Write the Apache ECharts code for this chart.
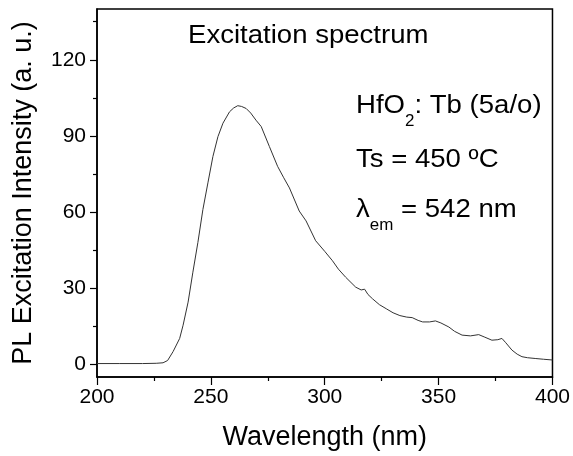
<!DOCTYPE html>
<html>
<head>
<meta charset="utf-8">
<script src="https://cdn.jsdelivr.net/npm/echarts@6/dist/echarts.min.js"></script>
<style>
html,body{margin:0;padding:0;background:#fff;}
#chart{width:573px;height:456px;}
</style>
</head>
<body>
<div id="chart"></div>
<script>
// Data
const wavelength = [200,210,220,226,229,231,233.4,236.3,237.8,240,242.1,244.3,246.5,248.7,250.9,253.1,255.3,258.2,260,261.8,263.5,265.5,267.5,269.8,272.1,275.7,279.3,282,284.5,288.8,291.8,296,300,303.4,306,309.2,313.6,316,317.5,319,321,324,327,330,333,336,338.4,341,343,346,348.6,351,354.5,357,360.3,364,367.6,370,373.4,376,377.8,379.5,382.2,384.5,386.6,389,392.4,396,400];
const intensity = [0.3,0.3,0.3,0.4,0.6,1.5,5.0,10.2,15.4,24.5,36.3,48,61,71.5,81.9,89.7,95,99.5,101,101.9,101.6,100.8,99,96.2,93.7,85.8,78,73.5,69.5,60.4,56.5,48.7,44.5,40.8,37.5,34.3,30.4,29.3,29.6,27.5,25.8,23.5,21.9,20.3,19.2,18.6,18.4,17.3,16.7,16.7,17.1,16.3,14.7,13,11.5,11.2,11.7,10.8,9.5,9.7,10.2,8.5,5.6,4,3,2.6,2.3,2,1.7];
const yTickValues = [0,30,60,90,120];
const yMinorValues = [15,45,75,105,135];
const xTitle = 'Wavelength (nm)';
const yTitle = 'PL Excitation Intensity (a. u.)';
const chartTitle = 'Excitation spectrum';
const noteLines = ['HfO{s|2}: Tb (5a/o)', 'Ts = 450 ºC', 'λ{s|em} = 542 nm'];

const FONT = '"Liberation Sans", Arial, Helvetica, sans-serif';
const chart = echarts.init(document.getElementById('chart'), null, {renderer:'canvas'});
const data = wavelength.map((w,i)=>[w,intensity[i]]);
const subRich = {s:{fontSize:16, lineHeight:16, padding:[32,0,0,0], fontFamily:FONT, fill:'#000'}};

chart.setOption({
  animation:false,
  backgroundColor:'#fff',
  grid:{left:97, top:9, width:457, height:371, show:true, borderColor:'#000', borderWidth:1.5, backgroundColor:'transparent'},
  xAxis:{
    type:'value', min:200, max:400, interval:50,
    axisLine:{show:true, onZero:false, lineStyle:{color:'#000', width:1.5}},
    axisTick:{show:true, inside:false, length:8, lineStyle:{color:'#000', width:1.2}},
    minorTick:{show:true, splitNumber:2, length:4, lineStyle:{color:'#000', width:1.2}},
    axisLabel:{color:'#000', fontFamily:FONT, fontSize:21, margin:10},
    splitLine:{show:false},
    name:xTitle, nameLocation:'middle', nameGap:47,
    nameTextStyle:{color:'#000', fontFamily:FONT, fontSize:27}
  },
  yAxis:[{
    type:'value', min:-5, max:140,
    axisLine:{show:true, onZero:false, lineStyle:{color:'#000', width:1.5}},
    axisTick:{show:true, inside:false, length:7, customValues:yTickValues, lineStyle:{color:'#000', width:1.2}},
    axisLabel:{color:'#000', fontFamily:FONT, fontSize:21, margin:11, customValues:yTickValues},
    splitLine:{show:false},
    name:yTitle, nameLocation:'middle', nameGap:60,
    nameTextStyle:{color:'#000', fontFamily:FONT, fontSize:27}
  },{
    type:'value', min:-5, max:140, position:'left',
    axisLine:{show:false},
    axisTick:{show:true, inside:false, length:4, customValues:yMinorValues, lineStyle:{color:'#000', width:1.2}},
    axisLabel:{show:false, customValues:yMinorValues},
    splitLine:{show:false}
  }],
  series:[{
    type:'line', data:data, showSymbol:false, symbol:'none',
    lineStyle:{color:'#333', width:1}, xAxisIndex:0, yAxisIndex:0
  }],
  graphic:[
    {type:'text', x:188, y:23, scaleX:1.06, style:{text:chartTitle, fill:'#000', font:'26px ' + FONT, align:'left', verticalAlign:'top'}},
    {type:'text', x:356, y:93, scaleX:1.06, style:{text:noteLines[0], fill:'#000', font:'26px ' + FONT, align:'left', verticalAlign:'top', rich:subRich}},
    {type:'text', x:356, y:147, scaleX:1.06, style:{text:noteLines[1], fill:'#000', font:'26px ' + FONT, align:'left', verticalAlign:'top'}},
    {type:'text', x:356, y:197, scaleX:1.06, style:{text:noteLines[2], fill:'#000', font:'26px ' + FONT, align:'left', verticalAlign:'top', rich:subRich}}
  ]
});
</script>
</body>
</html>
